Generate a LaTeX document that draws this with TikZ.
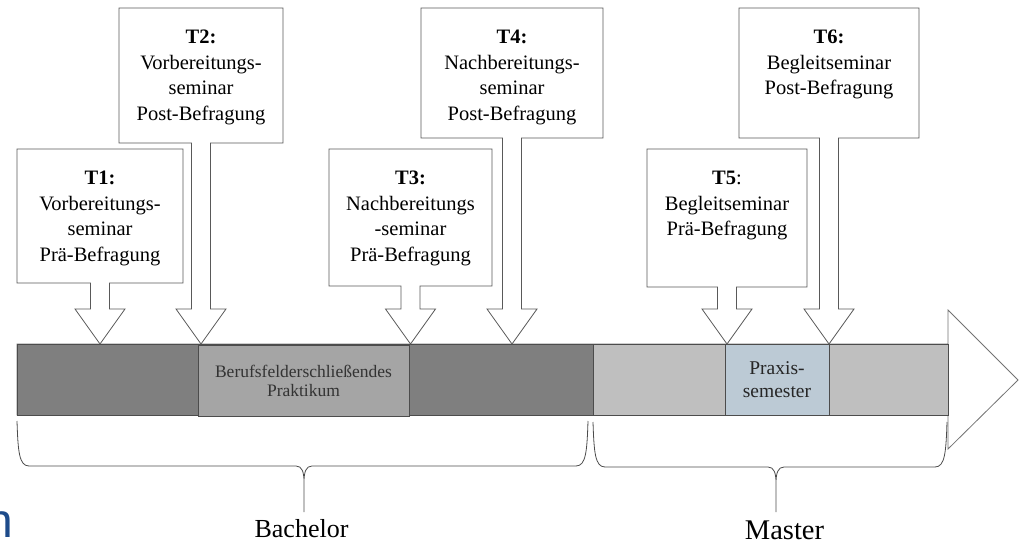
\documentclass[tikz,border=0pt]{standalone}
\usepackage{fontspec}
\setmainfont{Liberation Serif}
\newfontfamily\timesfont{Liberation Serif}
\newfontfamily\logofont{Liberation Sans}
\definecolor{bachelorgrey}{HTML}{7F7F7F}
\definecolor{mastergrey}{HTML}{BFBFBF}
\definecolor{praktikumgrey}{HTML}{A5A5A5}
\definecolor{praxisblue}{HTML}{BCCAD5}
\definecolor{logoblue}{HTML}{1D4B8A}
\newcommand{\tpcallout}[6]{%
  \pgfmathsetmacro\cx{(#2+#4)/2}
  \draw[callout] (#2,#3) -- (#4,#3) -- (#4,#5) -- ({\cx+9.5},#5) -- ({\cx+9.5},309)
    -- ({\cx+25},309) -- (\cx,344) -- ({\cx-25},309) -- ({\cx-9.5},309)
    -- ({\cx-9.5},#5) -- (#2,#5) -- cycle;
  \node[boxtext, anchor=north] (#1) at (\cx,#3+22) {#6};}
\newcommand{\timebrace}[6]{%
  \draw[braceline] (#1,#4) .. controls (#1+1,#4+30) and (#1+2,#5) .. (#1+12,#5)
    -- (#3-8,#5) .. controls (#3-2,#5) and (#3,#5+6) .. (#3,#5+16) -- (#3,#6)
    (#3,#5+16) .. controls (#3,#5+6) and (#3+2,#5) .. (#3+8,#5)
    -- (#2-12,#5) .. controls (#2-2,#5) and (#2-1,#4+30) .. (#2,#4);}
\begin{document}
\begin{tikzpicture}[x=1pt, y=-1pt,
    callout/.style={draw=black!65, fill=white, line width=0.8pt},
    boxtext/.style={align=center, inner sep=0pt, font=\timesfont\fontsize{20.5}{25.5}\selectfont},
    segment/.style={draw=black!70, line width=0.8pt},
    braceline/.style={draw=black!70, line width=0.8pt},
    phase/.style={inner sep=0pt, anchor=base}]
  \useasboundingbox (0,0) rectangle (1033,544);
  \clip (0,0) rectangle (1033,544);

  % timeline
  \draw[draw=black!55, fill=white, line width=0.8pt] (17,344) -- (948,344) -- (948,310)
    -- (1018,380) -- (948,449) -- (948,415) -- (17,415) -- cycle;
  \draw[segment, fill=bachelorgrey] (17,344) rectangle (593,415);
  \draw[segment, fill=mastergrey] (593,344) rectangle (948,415);
  \node[segment, fill=praktikumgrey, minimum width=211pt, minimum height=71pt, align=center,
    text=black!80, font=\timesfont\fontsize{17.5}{19}\selectfont] (praktikum) at (303.5,380.5)
    {Berufsfelderschließendes\\Praktikum};
  \node[segment, fill=praxisblue, minimum width=104pt, minimum height=71pt, align=center,
    text=black!85, font=\timesfont\fontsize{19.5}{23}\selectfont] (praxis) at (777,379.5)
    {Praxis-\\semester};

  % measurement points
  \tpcallout{t2}{119}{8}{283}{143}{\textbf{T2:}\\Vorbereitungs-\\seminar\\Post-Befragung}
  \tpcallout{t1}{17}{149}{183}{283}{\textbf{T1:}\\Vorbereitungs-\\seminar\\Prä-Befragung}
  \tpcallout{t4}{421}{8}{603}{138}{\textbf{T4:}\\Nachbereitungs-\\seminar\\Post-Befragung}
  \tpcallout{t3}{329}{149}{492}{286}{\textbf{T3:}\\Nachbereitungs\\-seminar\\Prä-Befragung}
  \tpcallout{t6}{739}{8}{919}{138}{\textbf{T6:}\\Begleitseminar\\Post-Befragung}
  \tpcallout{t5}{647}{149}{807}{287}{\textbf{T5}:\\Begleitseminar\\Prä-Befragung}

  % phases
  \timebrace{17}{588}{304}{421}{466}{512}
  \timebrace{593}{947}{776}{422}{467}{512}
  \node[phase, font=\timesfont\fontsize{26}{30}\selectfont] (bachelor) at (301.5,537) {Bachelor};
  \node[phase, font=\timesfont\fontsize{28.5}{32}\selectfont] (master) at (784.5,539) {Master};

  \node[anchor=base west, inner sep=0pt, text=logoblue, font=\logofont\fontsize{48}{48}\selectfont]
    (logo) at (-14,537) {n};
\end{tikzpicture}
\end{document}
